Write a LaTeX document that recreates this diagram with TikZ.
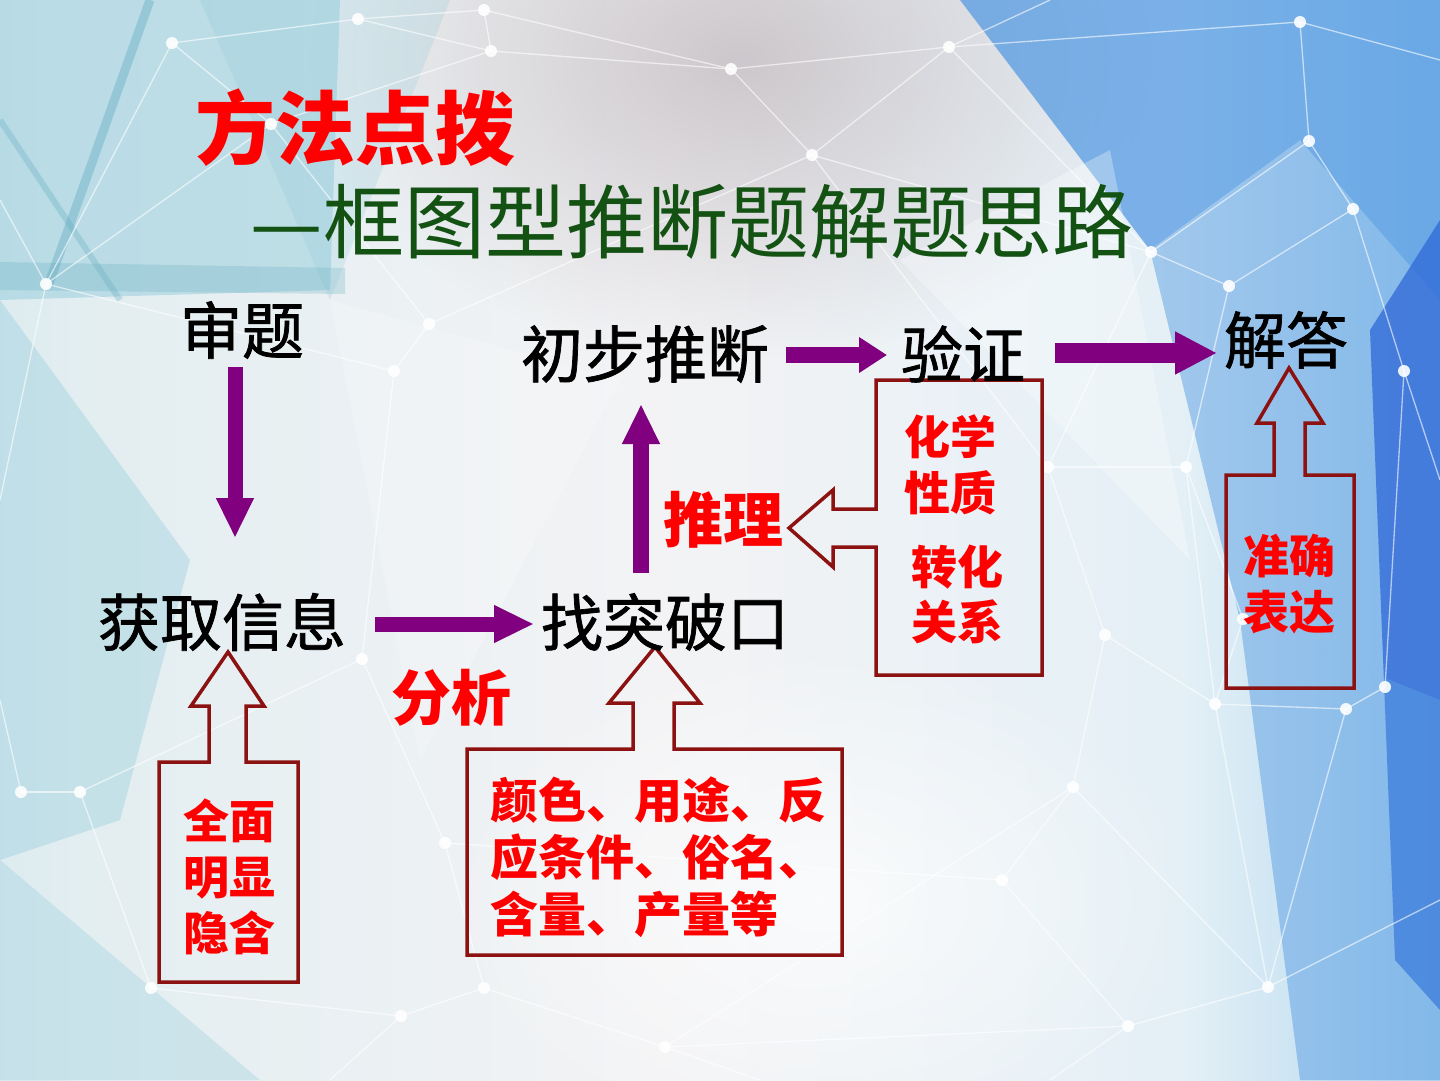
\documentclass[tikz,border=0pt]{standalone}
\usepackage{fontspec}
\usetikzlibrary{arrows.meta,fadings,calc}
\newfontfamily\songf{Noto Sans CJK SC}[FakeBold=1.2]
\newfontfamily\subf{Noto Sans CJK SC}
\newfontfamily\heif{Noto Sans CJK SC}
\definecolor{parrowc}{HTML}{800080}
\definecolor{callc}{HTML}{8C1212}
\definecolor{subg}{HTML}{145214}
\definecolor{redt}{HTML}{FF0000}
\definecolor{bgA}{HTML}{A9D6E4}
\definecolor{bgB}{HTML}{E3EEF1}
\definecolor{bgC}{HTML}{F3F3F5}
\definecolor{bgD}{HTML}{E4F0F6}
\definecolor{bgE}{HTML}{86C2EA}
\definecolor{bgF}{HTML}{4A8CE0}
\definecolor{tealA}{HTML}{7FC3D6}
\definecolor{tealB}{HTML}{5FA9BE}
\definecolor{blueA}{HTML}{4D96E2}
\definecolor{blueB}{HTML}{2F68D8}
\definecolor{greyA}{HTML}{BDB5BA}
\pgfdeclarehorizontalshading{bgsh}{100bp}{color(0bp)=(bgA); color(28bp)=(bgB); color(48bp)=(bgC); color(66bp)=(bgD); color(82bp)=(bgE); color(100bp)=(bgF)}
\tikzfading[name=softcirc, inner color=transparent!30, outer color=transparent!100]
\tikzset{
  blk/.style={font=\songf\fontsize{62}{62}\selectfont, text=black, inner sep=0pt},
  redlab/.style={font=\heif\bfseries\fontsize{60}{60}\selectfont, text=redt, inner sep=0pt},
  calltxt/.style={font=\heif\bfseries\fontsize{46}{56}\selectfont, text=redt, inner sep=0pt, align=center},
  callout/.style={draw=callc, line width=3.5pt, line join=miter},
  parrow/.style={draw=parrowc, line width=15pt, -{Triangle[length=40pt,width=35pt]}},
  netline/.style={draw=white, opacity=0.6, line width=1.3pt},
  netdot/.style={fill=white, opacity=0.9},
}
\begin{document}
\begin{tikzpicture}[x=1pt,y=-1pt]
\useasboundingbox (0,0) rectangle (1440,1080);
% ---------- background ----------
\shade[shading=bgsh] (0,0) rectangle (1440,1080);
\fill[greyA, path fading=softcirc] (740,60) ellipse [x radius=430, y radius=300];
\fill[tealA, opacity=0.4] (0,0) -- (340,0) -- (330,290) -- (0,300) -- cycle;
\fill[tealB, opacity=0.25] (0,262) -- (345,268) -- (345,294) -- (0,290) -- cycle;
\draw[tealB, opacity=0.4, line width=9pt] (150,0) -- (48,286);
\draw[tealB, opacity=0.3, line width=6pt] (0,120) -- (120,300);
\fill[tealA, opacity=0.3] (0,300) -- (190,560) -- (120,820) -- (0,860) -- cycle;
\fill[tealA, opacity=0.25] (0,860) -- (260,1080) -- (0,1080) -- cycle;
\fill[tealA, opacity=0.2] (200,0) -- (450,0) -- (330,300) -- cycle;
\fill[white, opacity=0.2] (330,300) -- (620,380) -- (420,760) -- cycle;
\fill[blueA, opacity=0.7] (960,0) -- (1440,0) -- (1440,300) -- (1300,140) -- (1150,250) -- cycle;
\fill[blueA, opacity=0.45] (1150,250) -- (1300,140) -- (1440,300) -- (1440,700) -- (1240,620) -- cycle;
\fill[white, opacity=0.3] (900,260) -- (1110,150) -- (1190,560) -- cycle;
\fill[blueB, opacity=0.75] (1370,330) -- (1440,220) -- (1440,1010) -- (1395,960) -- cycle;
\fill[blueA, opacity=0.45] (1240,620) -- (1440,700) -- (1440,1080) -- (1300,1080) -- cycle;
\fill[white, path fading=softcirc] (820,900) ellipse [x radius=380, y radius=260];
% network
\foreach \n/\p in {1/{172,43},2/{358,19},3/{484,10},4/{491,51},5/{271,124},6/{46,284},7/{429,324},8/{394,371},9/{731,69},10/{949,47},11/{812,155},12/{1300,22},13/{1309,141},14/{1353,209},15/{1151,252},16/{1229,286},17/{1404,371},18/{1186,467},19/{1048,467},20/{1105,635},21/{1215,704},22/{1346,709},23/{1385,687},24/{1073,787},25/{1002,880},26/{1268,987},27/{1128,1026},28/{21,792},29/{80,792},30/{445,843},31/{362,659},32/{151,988},33/{484,988},34/{401,1016},35/{665,1047},36/{1243,619}}
  \coordinate (d\n) at (\p);
\coordinate (e1) at (1050,0);
\coordinate (e2) at (1440,60);
\coordinate (e3) at (0,200);
\coordinate (e4) at (0,700);
\coordinate (e5) at (760,1080);
\coordinate (e6) at (1050,1080);
\coordinate (e7) at (330,1080);
\coordinate (e8) at (1440,900);
\coordinate (e9) at (1440,480);
\coordinate (e10) at (0,500);
\foreach \a/\b in {1/2,2/3,3/4,1/5,2/4,4/5,5/7,4/9,9/10,9/11,10/11,11/7,7/8,5/6,6/8,1/6,3/9,12/13,13/14,14/17,13/15,15/16,16/14,15/11,16/18,18/19,15/19,18/21,19/20,20/24,21/22,22/23,23/17,20/21,24/25,25/27,26/27,26/21,24/26,28/29,29/31,31/30,30/33,33/34,34/32,32/29,33/35,35/27,30/25,31/8,22/26,36/21,36/18,19/11,10/15,24/35,12/10}
  \draw[netline] (d\a) -- (d\b);
\draw[netline] (d10) -- (e1);
\draw[netline] (d12) -- (e2);
\draw[netline] (d6) -- (e3);
\draw[netline] (d28) -- (e4);
\draw[netline] (d35) -- (e5);
\draw[netline] (d27) -- (e6);
\draw[netline] (d34) -- (e7);
\draw[netline] (d26) -- (e8);
\draw[netline] (d17) -- (e9);
\draw[netline] (d6) -- (e10);
\foreach \n in {1,...,36} \fill[netdot] (d\n) circle (6);
% ---------- titles ----------
\node[font=\heif\bfseries\fontsize{80}{80}\selectfont, text=redt, inner sep=0pt] (title) at (355,128) {方法点拨};
\node[font=\subf\fontsize{81}{81}\selectfont, text=subg, inner sep=0pt] (subtitle) at (692,222) {—框图型推断题解题思路};
% ---------- callouts ----------
\draw[callout] (159,762) -- (209,762) -- (209,706) -- (191,706) -- (228,652) -- (264,706) -- (246,706) -- (246,762) -- (298,762) -- (298,982) -- (159,982) -- cycle;
\draw[callout] (467,749) -- (633,749) -- (633,703) -- (609,703) -- (655,647) -- (700,703) -- (674,703) -- (674,749) -- (842,749) -- (842,955) -- (467,955) -- cycle;
\draw[callout] (876,380) -- (1042,380) -- (1042,675) -- (876,675) -- (876,547) -- (833,547) -- (833,567) -- (789,528) -- (833,490) -- (833,509) -- (876,509) -- cycle;
\draw[callout] (1226,475) -- (1274,475) -- (1274,423) -- (1257,423) -- (1289,368) -- (1323,423) -- (1305,423) -- (1305,475) -- (1354,475) -- (1354,688) -- (1226,688) -- cycle;
% ---------- main labels ----------
\node[blk] (shenti) at (242,330) {审题};
\node[blk] (chubu) at (645,354) {初步推断};
\node[blk] (yanzheng) at (963,354) {验证};
\node[blk] (jieda) at (1286,340) {解答};
\node[blk] (huoqu) at (222,622) {获取信息};
\node[blk] (zhaotu) at (665,622) {找突破口};
\node[redlab] (tuili) at (723,520) {推理};
\node[redlab] (fenxi) at (451,698) {分析};
% callout texts
\node[calltxt] (hx) at (950,437) {化学};
\node[calltxt] (xz) at (950,493) {性质};
\node[calltxt] (zh) at (957,567) {转化};
\node[calltxt] (gx) at (957,622) {关系};
\node[calltxt] (zq) at (1289,584) {准确\\表达};
\node[calltxt] (qm) at (229,877) {全面\\明显\\隐含};
\node[calltxt, font=\heif\bfseries\fontsize{48}{57}\selectfont, align=left, anchor=west] (ys) at (490,857) {颜色、用途、反\\应条件、俗名、\\含量、产量等};
% ---------- purple arrows ----------
\draw[parrow] ($(shenti.center)+(-7,37)$) -- ($(huoqu.center)+(13,-84)$);
\draw[parrow] ($(huoqu.center)+(153,2)$) -- ($(zhaotu.center)+(-131,2)$);
\draw[parrow, line width=16pt] ($(zhaotu.center)+(-24,-49)$) -- ($(chubu.center)+(-4,50)$);
\draw[draw=parrowc, line width=16pt, -{Triangle[length=28pt,width=34pt]}] ($(chubu.center)+(141,1)$) -- ($(yanzheng.center)+(-76,1)$);
\draw[draw=parrowc, line width=20pt, -{Triangle[length=42pt,width=40pt]}] ($(yanzheng.center)+(92,-1)$) -- ($(jieda.center)+(-69,13)$);
\end{tikzpicture}
\end{document}
